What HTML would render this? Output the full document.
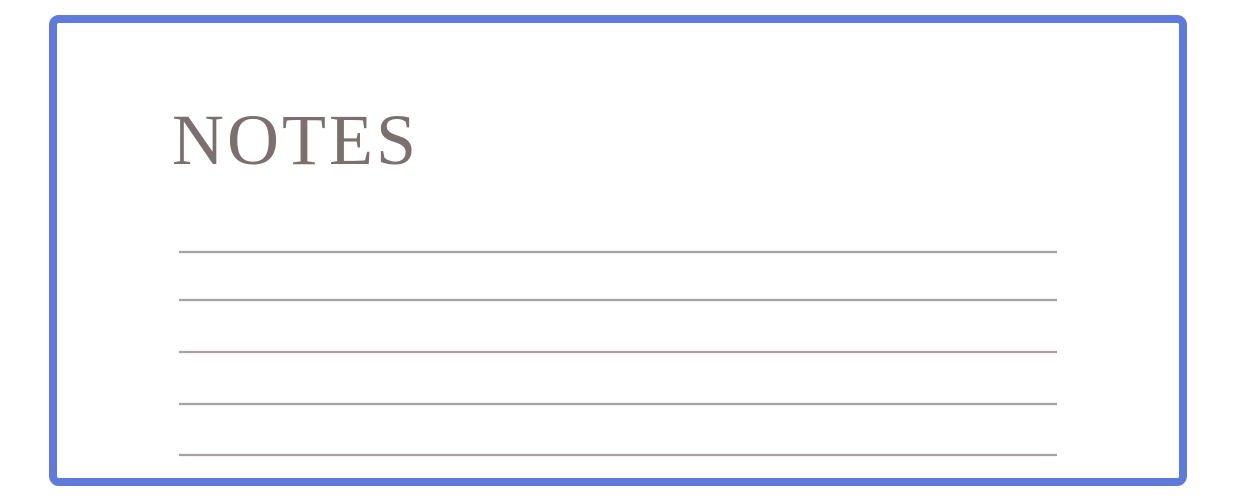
<!DOCTYPE html>
<html><head><meta charset="utf-8"><style>
html,body{margin:0;padding:0;background:#fff;width:1236px;height:501px;overflow:hidden}
</style></head><body>
<svg width="1236" height="501" viewBox="0 0 1236 501">
<rect x="53" y="19" width="1130" height="463" rx="6" fill="#fff" stroke="#5f7ad8" stroke-width="8"/>
<text x="172" y="164" font-family="Liberation Serif, serif" font-size="72" fill="#7b706e" textLength="244" lengthAdjust="spacing">NOTES</text>
<g stroke="#a9a1a1" stroke-width="2.2">
<line x1="179" x2="1057" y1="252" y2="252"/>
<line x1="179" x2="1057" y1="300" y2="300"/>
<line x1="179" x2="1057" y1="352" y2="352"/>
<line x1="179" x2="1057" y1="404" y2="404"/>
<line x1="179" x2="1057" y1="455" y2="455"/>
</g>
</svg>
</body></html>
